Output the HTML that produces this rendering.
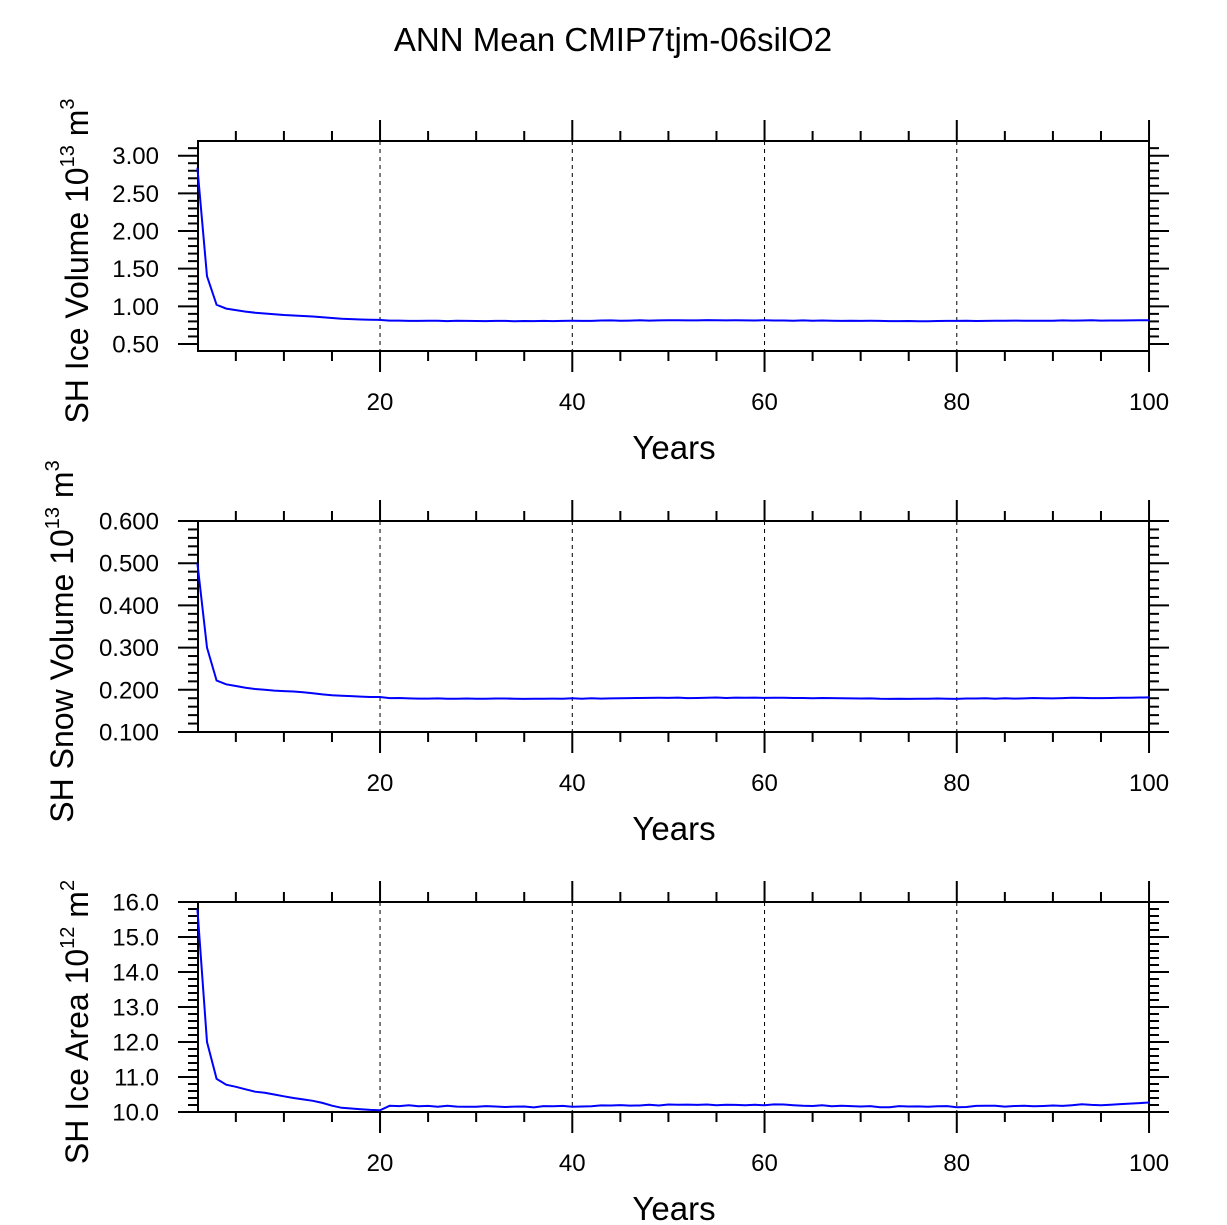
<!DOCTYPE html>
<html><head><meta charset="utf-8"><style>
html,body{margin:0;padding:0;background:#fff;}
svg{display:block;font-family:"Liberation Sans",Arial,sans-serif;}
</style></head><body>
<svg id="s" width="1227" height="1225" viewBox="0 0 1227 1225" xmlns="http://www.w3.org/2000/svg">
<text x="613" y="51" font-size="33" text-anchor="middle">ANN Mean CMIP7tjm-06silO2</text>
</svg>
<script>
const S=document.getElementById('s');const NS='http://www.w3.org/2000/svg';
function el(t,a,txt){const e=document.createElementNS(NS,t);for(const k in a)e.setAttribute(k,a[k]);if(txt!==undefined)e.textContent=txt;S.appendChild(e);return e;}
const X0=198,X1=1149;const xf=y=>197.4+(y-1)*9.6125;
function seq(head,tailBase,amp,seed,endv){const a=head.slice();let s=seed;for(let i=a.length+1;i<=100;i++){s=(s*9301+49297)%233280;const r=s/233280-0.5;let v=tailBase+amp*r+amp*0.8*Math.sin(i/7);if(i>=95&&endv!==undefined)v=tailBase+(endv-tailBase)*(i-94)/6;a.push(v);}return a;}
const d1=[2.84,1.40,1.02,0.97,0.95,0.93,0.915,0.905,0.895,0.885,0.878,0.872,0.865,0.855,0.845,0.835,0.83,0.825,0.822,0.82];
const d2=[0.50,0.30,0.222,0.213,0.209,0.205,0.202,0.200,0.198,0.197,0.196,0.194,0.192,0.189,0.187,0.186,0.185,0.184,0.183,0.183];
const d3=[15.8,12.0,10.95,10.78,10.72,10.65,10.58,10.55,10.5,10.45,10.4,10.36,10.32,10.26,10.18,10.12,10.1,10.08,10.06,10.05];
const P=[
 {top:141,bot:351,lo:0.407,hi:3.195,maj:[0.5,1,1.5,2,2.5,3],minStep:0.1,fmt:v=>v.toFixed(2),data:seq(d1,0.81,0.006,7,0.815),title:['SH Ice Volume 10','13',' m','3'],tx:88},
 {top:521,bot:732,lo:0.1,hi:0.6,maj:[0.1,0.2,0.3,0.4,0.5,0.6],minStep:0.02,fmt:v=>v.toFixed(3),data:seq(d2,0.18,0.0015,11,0.182),title:['SH Snow Volume 10','13',' m','3'],tx:73},
 {top:902,bot:1112,lo:10,hi:16,maj:[10,11,12,13,14,15,16],minStep:0.2,fmt:v=>v.toFixed(1),data:seq(d3,10.18,0.04,3,10.27),title:['SH Ice Area 10','12',' m','2'],tx:88}
];
P.forEach(p=>{
 const yf=v=>p.bot-(v-p.lo)/(p.hi-p.lo)*(p.bot-p.top);
 [20,40,60,80].forEach(y=>el('line',{x1:xf(y),x2:xf(y),y1:p.top,y2:p.bot,stroke:'#000','stroke-width':1,'stroke-dasharray':'4,4'}));
 for(let y=5;y<=100;y+=5){const x=xf(y);const L=(y%20==0)?21:10;
  el('line',{x1:x,x2:x,y1:p.top-L,y2:p.top,stroke:'#000','stroke-width':2});
  el('line',{x1:x,x2:x,y1:p.bot,y2:p.bot+L,stroke:'#000','stroke-width':2});
  if(y%20==0)el('text',{x:x,y:p.bot+59,'font-size':24,'text-anchor':'middle'},String(y));}
 const n=Math.ceil(p.lo/p.minStep-1e-6),m=Math.floor(p.hi/p.minStep+1e-6);
 for(let k=n;k<=m;k++){const v=k*p.minStep;const y=yf(v);const isMaj=p.maj.some(q=>Math.abs(q-v)<1e-6);const L=isMaj?20:10;
  el('line',{x1:X0-L,x2:X0,y1:y,y2:y,stroke:'#000','stroke-width':2});
  el('line',{x1:X1,x2:X1+L,y1:y,y2:y,stroke:'#000','stroke-width':2});}
 p.maj.forEach(v=>el('text',{x:159,y:yf(v)+8.5,'font-size':24,'text-anchor':'end'},p.fmt(v)));
 el('rect',{x:X0,y:p.top,width:X1-X0,height:p.bot-p.top,fill:'none',stroke:'#000','stroke-width':2});
 el('polyline',{points:p.data.map((v,i)=>xf(i+1).toFixed(1)+','+yf(v).toFixed(1)).join(' '),fill:'none',stroke:'#0000ff','stroke-width':2});
 el('text',{x:674,y:p.bot+108,'font-size':33,'text-anchor':'middle'},'Years');
 const cy=(p.top+p.bot)/2+15;
 const t=el('text',{x:0,y:0,'font-size':32,'text-anchor':'middle',transform:`translate(${p.tx},${cy}) rotate(-90)`});
 const a=document.createElementNS(NS,'tspan');a.textContent=p.title[0];t.appendChild(a);
 const b=document.createElementNS(NS,'tspan');b.setAttribute('dy',-14);b.setAttribute('font-size',20);b.textContent=p.title[1];t.appendChild(b);
 const c=document.createElementNS(NS,'tspan');c.setAttribute('dy',14);c.textContent=p.title[2];t.appendChild(c);
 const d=document.createElementNS(NS,'tspan');d.setAttribute('dy',-14);d.setAttribute('font-size',20);d.textContent=p.title[3];t.appendChild(d);
});
</script>
</body></html>
